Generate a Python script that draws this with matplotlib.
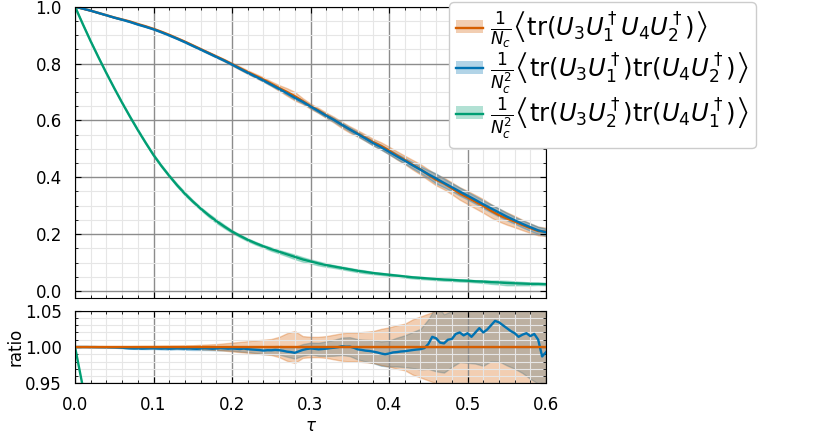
import numpy as np
import matplotlib
matplotlib.use("Agg")
import matplotlib.pyplot as plt
from matplotlib.lines import Line2D
from matplotlib.patches import Patch
from matplotlib.ticker import MultipleLocator

# tau grid for the main panel (step 0.01) and the ratio line (step 0.005)
tau = np.linspace(0.0, 0.6, 61)
tau_fine = np.linspace(0.0, 0.6, 121)

# 1/Nc <tr(U3 U1^+ U4 U2^+)>
orange = np.array([
    1.000, 0.993, 0.986, 0.978, 0.970, 0.962, 0.955, 0.948, 0.939, 0.931,
    0.922, 0.912, 0.901, 0.889, 0.877, 0.864, 0.851, 0.838, 0.825, 0.812,
    0.798, 0.784, 0.770, 0.757, 0.744, 0.729, 0.714, 0.700, 0.685, 0.668,
    0.650, 0.635, 0.618, 0.602, 0.584, 0.568, 0.554, 0.539, 0.523, 0.510,
    0.494, 0.477, 0.461, 0.444, 0.428, 0.409, 0.391, 0.378, 0.361, 0.343,
    0.329, 0.314, 0.299, 0.282, 0.267, 0.255, 0.244, 0.232, 0.221, 0.211,
    0.208])
orange_rel_err = np.array([
    0.0, 0.0002, 0.0004, 0.0005, 0.0007, 0.0008, 0.001, 0.0011, 0.0013, 0.0014,
    0.0015, 0.0017, 0.0019, 0.002, 0.0022, 0.0024, 0.003, 0.0035, 0.004, 0.005,
    0.006, 0.007, 0.008, 0.009, 0.010, 0.011, 0.014, 0.019, 0.022, 0.015,
    0.014, 0.014, 0.015, 0.017, 0.019, 0.020, 0.020, 0.021, 0.022, 0.025,
    0.027, 0.030, 0.032, 0.038, 0.042, 0.046, 0.050, 0.054, 0.058, 0.064,
    0.070, 0.075, 0.080, 0.083, 0.085, 0.085, 0.082, 0.078, 0.075, 0.072,
    0.070])

# ratio <tr tr>/<tr> (blue over orange), fine grid
ratio_blue = np.array([
    1.0000, 1.0000, 1.0000, 1.0000, 0.9999, 0.9999, 0.9998, 0.9998, 0.9997, 0.9996,
    0.9995, 0.9993, 0.9990, 0.9985, 0.9982, 0.9980, 0.9981, 0.9978, 0.9980, 0.9982,
    0.9983, 0.9980, 0.9978, 0.9981, 0.9976, 0.9979, 0.9982, 0.9980, 0.9978, 0.9981,
    0.9977, 0.9975, 0.9979, 0.9983, 0.9980, 0.9976, 0.9979, 0.9984, 0.9981, 0.9977,
    0.9980, 0.9976, 0.9972, 0.9978, 0.9970, 0.9966, 0.9962, 0.9958, 0.9951, 0.9956,
    0.9955, 0.9960, 0.9956, 0.9948, 0.9936, 0.9930, 0.9920, 0.9940, 0.9960, 0.9972,
    0.9980, 0.9975, 0.9968, 0.9972, 0.9977, 0.9985, 0.9990, 0.9998, 1.0010, 1.0004,
    1.0005, 0.9990, 0.9968, 0.9960, 0.9950, 0.9945, 0.9936, 0.9925, 0.9910, 0.9900,
    0.9910, 0.9925, 0.9930, 0.9938, 0.9942, 0.9950, 0.9958, 0.9965, 0.9970, 0.9985,
    1.0040, 1.0140, 1.0120, 1.0060, 1.0050, 1.0100, 1.0110, 1.0180, 1.0200, 1.0160,
    1.0190, 1.0140, 1.0200, 1.0260, 1.0200, 1.0240, 1.0300, 1.0360, 1.0340, 1.0300,
    1.0260, 1.0220, 1.0190, 1.0140, 1.0170, 1.0190, 1.0150, 1.0180, 1.0100, 0.9870,
    0.9930])
blue_rel_err = np.array([
    0.0, 0.0001, 0.0002, 0.0003, 0.0004, 0.0005, 0.0006, 0.0007, 0.0008, 0.0009,
    0.001, 0.0011, 0.0013, 0.0014, 0.0016, 0.0018, 0.002, 0.0022, 0.0025, 0.0028,
    0.003, 0.0035, 0.004, 0.0045, 0.005, 0.0055, 0.006, 0.007, 0.008, 0.008,
    0.008, 0.009, 0.010, 0.011, 0.012, 0.013, 0.014, 0.015, 0.016, 0.017,
    0.018, 0.020, 0.022, 0.025, 0.028, 0.034, 0.045, 0.040, 0.038, 0.040,
    0.040, 0.042, 0.045, 0.048, 0.052, 0.050, 0.048, 0.052, 0.058, 0.060,
    0.060])

# 1/Nc^2 <tr(U3 U2^+) tr(U4 U1^+)>
green = np.array([
    1.000, 0.938, 0.878, 0.821, 0.766, 0.713, 0.662, 0.613, 0.566, 0.521,
    0.478, 0.440, 0.405, 0.372, 0.342, 0.315, 0.290, 0.267, 0.246, 0.227,
    0.209, 0.194, 0.180, 0.168, 0.157, 0.147, 0.138, 0.129, 0.120, 0.111,
    0.104, 0.097, 0.091, 0.086, 0.081, 0.076, 0.071, 0.067, 0.063, 0.060,
    0.057, 0.054, 0.051, 0.048, 0.046, 0.044, 0.042, 0.040, 0.039, 0.037,
    0.036, 0.034, 0.033, 0.031, 0.030, 0.028, 0.027, 0.026, 0.025, 0.025,
    0.024])
green_err = np.array([
    0.0, 0.001, 0.0015, 0.002, 0.002, 0.0025, 0.003, 0.003, 0.0035, 0.0035,
    0.004, 0.004, 0.004, 0.005, 0.006, 0.005, 0.005, 0.006, 0.007, 0.006,
    0.005, 0.005, 0.005, 0.005, 0.005, 0.006, 0.006, 0.007, 0.008, 0.008,
    0.007, 0.007, 0.006, 0.005, 0.005, 0.005, 0.005, 0.005, 0.004, 0.004,
    0.004, 0.004, 0.004, 0.004, 0.004, 0.004, 0.004, 0.004, 0.004, 0.004,
    0.004, 0.004, 0.005, 0.006, 0.007, 0.008, 0.007, 0.006, 0.005, 0.004,
    0.004])

labels = [
    r'$\frac{1}{N_c}\left\langle\mathrm{tr}(U_3U_1^\dagger U_4U_2^\dagger)\right\rangle$',
    r'$\frac{1}{N_c^2}\left\langle\mathrm{tr}(U_3U_1^\dagger)\mathrm{tr}(U_4U_2^\dagger)\right\rangle$',
    r'$\frac{1}{N_c^2}\left\langle\mathrm{tr}(U_3U_2^\dagger)\mathrm{tr}(U_4U_1^\dagger)\right\rangle$',
]

C_OR = '#D55E00'
C_BL = '#0072B2'
C_GR = '#009E73'
ALPHA = 0.3
LW = 1.7

# blue curve on the main grid
ratio_blue_coarse = ratio_blue[::2]
blue = orange * ratio_blue_coarse

fig = plt.figure(figsize=(8.3, 4.37), dpi=100)
ax = fig.add_axes([0.0904, 0.3188, 0.5675, 0.6659])
axr = fig.add_axes([0.0904, 0.1229, 0.5675, 0.1661], sharex=ax)

# Main panel
for y, err, c in [(orange, orange * orange_rel_err, C_OR),
                  (blue, blue * blue_rel_err, C_BL),
                  (green, green_err, C_GR)]:
    ax.fill_between(tau, y - err, y + err, color=c, alpha=ALPHA, lw=1)
    ax.plot(tau, y, color=c, lw=LW)

# Ratio panel (blue band below the orange one)
axr.fill_between(tau, ratio_blue_coarse * (1 - blue_rel_err),
                 ratio_blue_coarse * (1 + blue_rel_err), color=C_BL, alpha=ALPHA, lw=1)
axr.fill_between(tau, 1 - orange_rel_err, 1 + orange_rel_err, color=C_OR, alpha=ALPHA, lw=1)
axr.plot(tau, green / orange, color=C_GR, lw=LW)
axr.plot(tau_fine, ratio_blue, color=C_BL, lw=LW)
axr.plot(tau, np.ones_like(tau), color=C_OR, lw=LW)

for a in (ax, axr):
    a.set_xlim(0.0, 0.6)
    a.xaxis.set_major_locator(MultipleLocator(0.1))
    a.xaxis.set_minor_locator(MultipleLocator(0.02))
    a.tick_params(which='both', direction='in', top=True, right=True,
                  labelsize=12, pad=9.5)
    a.tick_params(which='major', length=4)
    a.tick_params(which='minor', length=2.2)
    a.grid(True, which='major', color='0.55', lw=1.0)
    a.grid(True, which='minor', color='0.9', lw=0.8)

ax.set_ylim(-0.0236, 1.0)
ax.yaxis.set_major_locator(MultipleLocator(0.2))
ax.yaxis.set_minor_locator(MultipleLocator(0.05))
ax.tick_params(labelbottom=False)

axr.set_ylim(0.95, 1.05)
axr.yaxis.set_minor_locator(MultipleLocator(0.01))
axr.set_yticks([0.95, 1.00, 1.05])
axr.set_yticklabels(['0.95', '1.00', '1.05'])
axr.set_ylabel('ratio', fontsize=12, labelpad=0)
axr.set_xlabel(r'$\tau$', fontsize=12, labelpad=1.5)

handles = [(Patch(facecolor=c, alpha=ALPHA, edgecolor='none'), Line2D([], [], color=c, lw=LW))
           for c in (C_OR, C_BL, C_GR)]
fig.legend(handles, labels, loc='upper left', bbox_to_anchor=(449 / 830, 1 - 2 / 437),
           borderaxespad=0, fontsize=17.5, handlelength=1.1, handleheight=0.45,
           handletextpad=0.3, labelspacing=0.0, borderpad=0.3,
           framealpha=1.0, edgecolor='0.8')

fig.savefig('out.png', dpi=100)
